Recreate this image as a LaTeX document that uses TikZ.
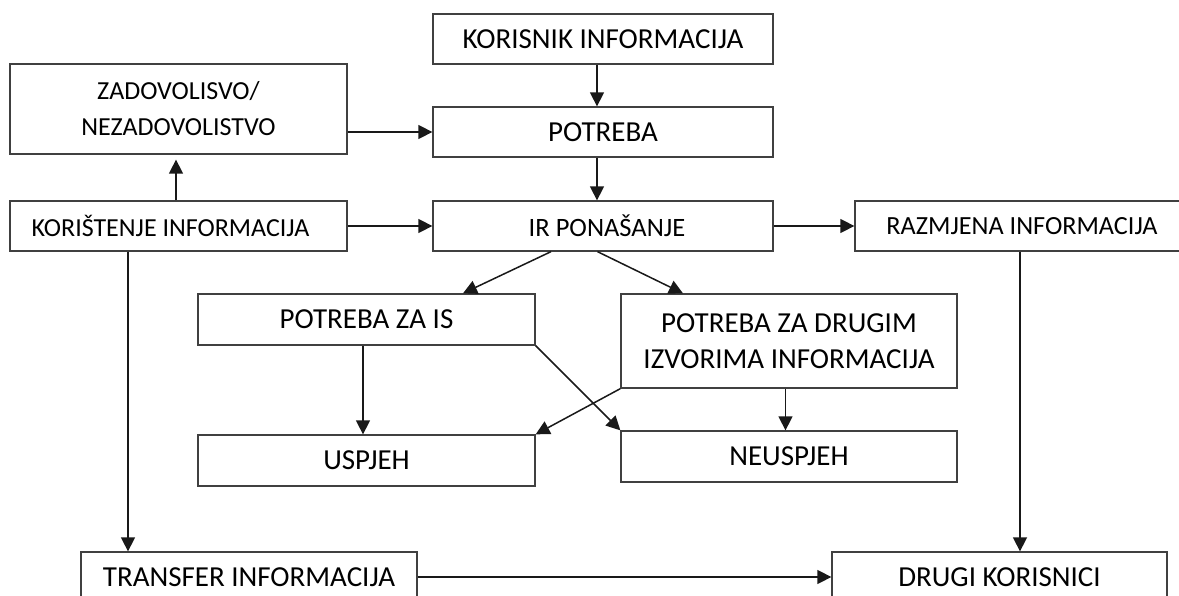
\documentclass[tikz,border=0pt]{standalone}
\usepackage{fontspec}
\setmainfont{Carlito}
\usetikzlibrary{arrows.meta}
\tikzset{
  box/.style={draw=black!75, line width=1.3pt, inner sep=0pt, align=center, font=\fontsize{29}{36}\selectfont, text=black},
  fs/.style={font=\fontsize{#1}{36}\selectfont},
  conn/.style={draw=black!90, line width=1.5pt, -{Triangle[length=14pt,width=14pt]}}
}
\begin{document}
\begin{tikzpicture}[x=1pt,y=-1pt]
\useasboundingbox (0,0) rectangle (1179,596);
\clip (0,0) rectangle (1179,596);
\node[box, minimum width=340pt, minimum height=50pt] (kor) at (603,39) {KORISNIK INFORMACIJA};
\node[box, fs=26, minimum width=337pt, minimum height=90pt] (zad) at (178.5,109) {ZADOVOLISVO/\\NEZADOVOLISTVO};
\node[box, minimum width=340pt, minimum height=50pt] (pot) at (603,132) {POTREBA};
\node[box, fs=26, minimum width=337pt, minimum height=50pt] (kori) at (178.5,226) {\hspace*{-16pt}KORIŠTENJE INFORMACIJA};
\node[box, fs=26.5, minimum width=340pt, minimum height=50pt] (ir) at (603,226) {\hspace*{8pt}IR PONAŠANJE};
\node[box, fs=26.2, minimum width=334pt, minimum height=50pt] (raz) at (1022,226) {RAZMJENA INFORMACIJA};
\node[box, minimum width=337pt, minimum height=51pt] (pis) at (366.5,319.5) {POTREBA ZA IS};
\node[box, minimum width=336pt, minimum height=94pt] (pdr) at (789,341) {POTREBA ZA DRUGIM\\IZVORIMA INFORMACIJA};
\node[box, minimum width=337pt, minimum height=51pt] (usp) at (366.5,460.5) {USPJEH};
\node[box, minimum width=336pt, minimum height=51pt] (neu) at (789,456.5) {NEUSPJEH};
\node[box, minimum width=336pt, minimum height=50pt] (tra) at (249,577) {TRANSFER INFORMACIJA};
\node[box, minimum width=335pt, minimum height=50pt] (dru) at (999.5,577) {DRUGI KORISNICI};

\draw[conn] ([xshift=-6pt]kor.south) -- ([xshift=-6pt]pot.north);
\draw[conn] ([xshift=-6pt]pot.south) -- ([xshift=-6pt]ir.north);
\draw[conn] (zad.east |- pot.west) -- (pot.west);
\draw[conn, shorten >=5pt] ([xshift=-2.5pt]kori.north) -- ([xshift=-2.5pt]zad.south);
\draw[conn] (kori.east) -- (ir.west);
\draw[conn] (ir.east) -- (raz.west);
\draw[conn] ([xshift=-52pt]ir.south) -- ([xshift=96.5pt]pis.north);
\draw[conn] ([xshift=-5.5pt]ir.south) -- ([xshift=-106pt]pdr.north);
\draw[conn] ([xshift=-50.5pt]kori.south) -- ([xshift=-50.5pt]kori.south |- tra.north);
\draw[conn] ([xshift=-2pt]raz.south) -- ([xshift=-2pt]raz.south |- dru.north);
\draw[conn] (tra.east) -- (dru.west);
\draw[conn] ([xshift=-3.5pt]pis.south) -- ([xshift=-3.5pt]pis.south |- usp.north);
\draw[conn] (pis.south east) -- (neu.north west);
\draw[conn] (pdr.south west) -- (usp.north east);
\draw[conn] ([xshift=-3.5pt]pdr.south) -- ([xshift=-3.5pt]pdr.south |- neu.north);
\end{tikzpicture}
\end{document}
